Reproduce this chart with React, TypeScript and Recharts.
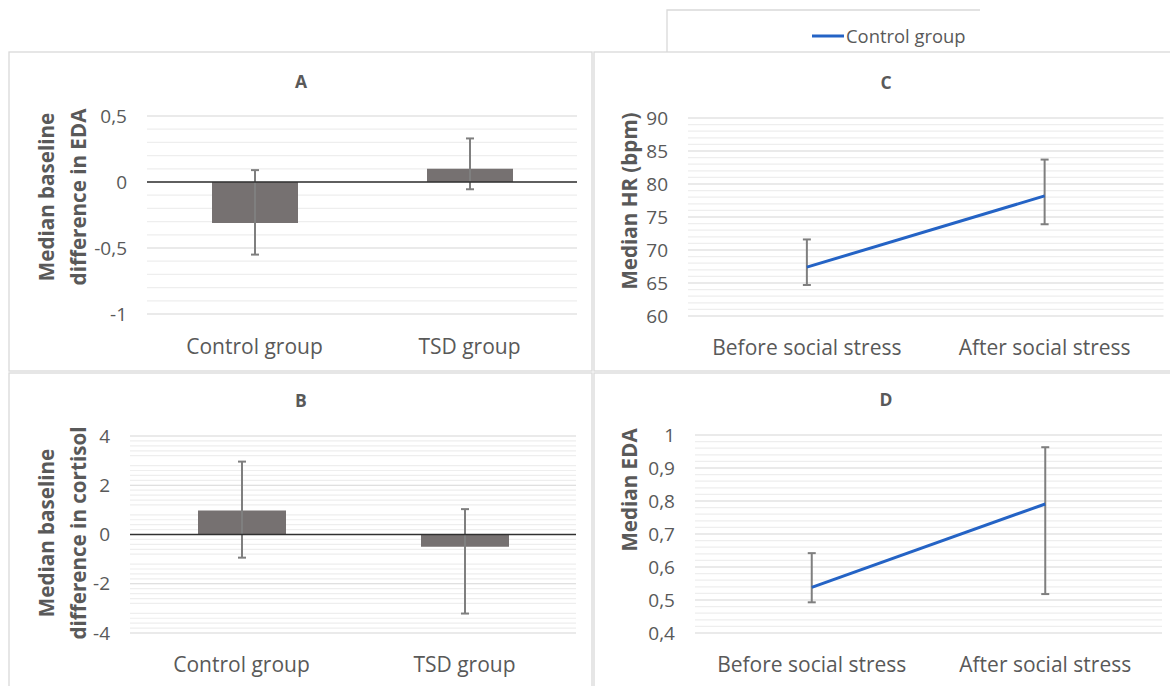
import React from 'react';
import { ComposedChart, Bar, Line, XAxis, YAxis, CartesianGrid, ReferenceLine, ErrorBar } from 'recharts';

const FONT = '"Open Sans", Lato, sans-serif';
const TXT = '#595959';
const BAR_FILL = '#767171';
const LINE_BLUE = '#2463c5';
const ERR = '#7f7f7f';

// Panel A – median baseline difference in EDA
const groupCategories = ['Control group', 'TSD group'];
const edaDiffMedian = [-0.31, 0.1];
const edaDiffLow = [-0.55, -0.055];
const edaDiffHigh = [0.09, 0.33];
const edaDiffTicks = [-1, -0.5, 0, 0.5];

// Panel B – median baseline difference in cortisol
const cortisolDiffMedian = [0.97, -0.5];
const cortisolDiffLow = [-0.94, -3.21];
const cortisolDiffHigh = [2.96, 1.03];
const cortisolDiffTicks = [-4, -2, 0, 2, 4];

// Panel C – median HR
const stressCategories = ['Before social stress', 'After social stress'];
const hrMedian = [67.4, 78.2];
const hrLow = [64.7, 73.9];
const hrHigh = [71.6, 83.7];
const hrTicks = [60, 65, 70, 75, 80, 85, 90];

// Panel D – median EDA
const edaMedian = [0.538, 0.791];
const edaLow = [0.493, 0.518];
const edaHigh = [0.642, 0.963];
const edaTicks = [0.4, 0.5, 0.6, 0.7, 0.8, 0.9, 1];

const legendLabel = 'Control group';

function rows(cats: string[], med: number[], low: number[], high: number[]) {
  return cats.map((c, i) => ({ name: c, value: med[i], err: [med[i] - low[i], high[i] - med[i]] }));
}

function minorValues(from: number, to: number, div: number, majorEvery: number) {
  const out: number[] = [];
  for (let i = from; i <= to; i++) {
    if (i % majorEvery !== 0) out.push(i / div);
  }
  return out;
}

const fmt = (v: number) => String(v).replace('.', ',');

type PanelProps = {
  left: number; top: number; width: number; height: number;
  margin: { top: number; right: number; bottom: number; left: number };
  yWidth: number; domain: [number, number]; ticks: number[]; minor: number[];
  kind: 'bar' | 'line'; data: any[]; barSize?: number; zeroLine?: boolean; xMargin: number;
};

function Panel(p: PanelProps) {
  return (
    <div style={{ position: 'absolute', left: p.left, top: p.top }}>
      <ComposedChart width={p.width} height={p.height} data={p.data} margin={p.margin}>
        <CartesianGrid vertical={false} horizontalValues={p.minor} stroke="#eeeeee" strokeWidth={1.2} syncWithTicks={false} />
        <CartesianGrid vertical={false} horizontalValues={p.ticks} stroke="#d6d6d6" strokeWidth={1.2} syncWithTicks={false} />
        <XAxis dataKey="name" scale="band" axisLine={false} tickLine={false} tickSize={0} tickMargin={p.xMargin} height={40}
          interval={0} tick={{ fill: TXT, fontSize: 21, fontFamily: FONT }} />
        <YAxis type="number" domain={p.domain} ticks={p.ticks} interval={0} allowDataOverflow axisLine={false}
          tickLine={false} tickSize={0} tickMargin={20} width={p.yWidth} tickFormatter={fmt}
          tick={{ fill: TXT, fontSize: 19, fontFamily: FONT }} />
        {p.kind === 'bar' ? (
          <Bar dataKey="value" fill={BAR_FILL} barSize={p.barSize} isAnimationActive={false}>
            <ErrorBar dataKey="err" direction="y" stroke={ERR} strokeWidth={2} width={4} />
          </Bar>
        ) : (
          <Line dataKey="value" stroke={LINE_BLUE} strokeWidth={3} dot={false} isAnimationActive={false}>
            <ErrorBar dataKey="err" direction="y" stroke={ERR} strokeWidth={2} width={4} />
          </Line>
        )}
        {p.zeroLine ? <ReferenceLine y={0} stroke="#303030" strokeWidth={1.3} /> : null}
      </ComposedChart>
    </div>
  );
}

function YLabel({ x, y, lines, size }: { x: number[]; y: number; lines: string[]; size: number }) {
  return (
    <>
      {lines.map((l, i) => (
        <text key={i} transform={`translate(${x[i]},${y}) rotate(-90)`} textAnchor="middle" dominantBaseline="central"
          fontFamily={FONT} fontWeight="bold" fontSize={size} fill={TXT}>{l}</text>
      ))}
    </>
  );
}

export default function App() {
  const dataA = rows(groupCategories, edaDiffMedian, edaDiffLow, edaDiffHigh);
  const dataB = rows(groupCategories, cortisolDiffMedian, cortisolDiffLow, cortisolDiffHigh);
  const dataC = rows(stressCategories, hrMedian, hrLow, hrHigh);
  const dataD = rows(stressCategories, edaMedian, edaLow, edaHigh);
  return (
    <div style={{ position: 'absolute', left: 0, top: 0, width: 1170, height: 686, background: '#fff', overflow: 'hidden' }}>
      <Panel left={9} top={52} width={584} height={320} margin={{ top: 64, right: 16, bottom: 18, left: 0 }} yWidth={138}
        domain={[-1, 0.5]} ticks={edaDiffTicks} minor={minorValues(-10, 5, 10, 5)} kind="bar" data={dataA} barSize={86} zeroLine xMargin={25} />
      <Panel left={9} top={372} width={584} height={314} margin={{ top: 64, right: 17, bottom: 13, left: 0 }} yWidth={121}
        domain={[-4, 4]} ticks={cortisolDiffTicks} minor={minorValues(-20, 20, 5, 5)} kind="bar" data={dataB} barSize={88} zeroLine xMargin={24} />
      <Panel left={593} top={52} width={577} height={320} margin={{ top: 66, right: 6.5, bottom: 16, left: 0 }} yWidth={95}
        domain={[60, 90]} ticks={hrTicks} minor={minorValues(60, 90, 1, 5)} kind="line" data={dataC} xMargin={24} />
      <Panel left={593} top={372} width={577} height={314} margin={{ top: 63, right: 8, bottom: 13, left: 0 }} yWidth={102}
        domain={[0.4, 1]} ticks={edaTicks} minor={minorValues(20, 50, 50, 5)} kind="line" data={dataD} xMargin={24} />
      <svg width={1170} height={686} style={{ position: 'absolute', left: 0, top: 0, pointerEvents: 'none' }}>
        <rect x={9} y={52} width={583} height={319} fill="none" stroke="#d9d9d9" strokeWidth={1.3} />
        <rect x={9} y={373} width={583} height={320} fill="none" stroke="#d9d9d9" strokeWidth={1.3} />
        <rect x={594} y={52} width={580} height={319} fill="none" stroke="#d9d9d9" strokeWidth={1.3} />
        <rect x={594} y={373} width={580} height={320} fill="none" stroke="#d9d9d9" strokeWidth={1.3} />
        <polyline points="667,52 667,10 980,10" fill="none" stroke="#d9d9d9" strokeWidth={1.3} />
        <line x1={812} y1={36} x2={844} y2={36} stroke={LINE_BLUE} strokeWidth={3} />
        <text x={846} y={42.5} fontFamily={FONT} fontSize={18.4} fill={TXT}>{legendLabel}</text>
        <text x={301} y={80.5} textAnchor="middle" dominantBaseline="central" fontFamily={FONT} fontWeight="bold" fontSize={17.5} fill={TXT}>A</text>
        <text x={301} y={400} textAnchor="middle" dominantBaseline="central" fontFamily={FONT} fontWeight="bold" fontSize={17.5} fill={TXT}>B</text>
        <text x={886} y={82} textAnchor="middle" dominantBaseline="central" fontFamily={FONT} fontWeight="bold" fontSize={17.5} fill={TXT}>C</text>
        <text x={886} y={399} textAnchor="middle" dominantBaseline="central" fontFamily={FONT} fontWeight="bold" fontSize={17.5} fill={TXT}>D</text>
        <YLabel x={[46, 78]} y={197} lines={['Median baseline', 'difference in EDA']} size={20.6} />
        <YLabel x={[46, 78]} y={533} lines={['Median baseline', 'difference in cortisol']} size={20.6} />
        <YLabel x={[629]} y={201} lines={['Median HR (bpm)']} size={20.6} />
        <YLabel x={[629]} y={490} lines={['Median EDA']} size={20.6} />
      </svg>
    </div>
  );
}
